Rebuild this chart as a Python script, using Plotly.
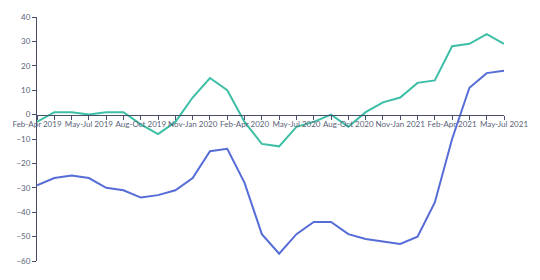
import plotly.graph_objects as go

periods = ["Feb-Apr 2019", "Mar-May 2019", "Apr-Jun 2019", "May-Jul 2019", "Jun-Aug 2019",
           "Jul-Sep 2019", "Aug-Oct 2019", "Sep-Nov 2019", "Oct-Dec 2019", "Nov-Jan 2020",
           "Dec-Feb 2020", "Jan-Mar 2020", "Feb-Apr 2020", "Mar-May 2020", "Apr-Jun 2020",
           "May-Jul 2020", "Jun-Aug 2020", "Jul-Sep 2020", "Aug-Oct 2020", "Sep-Nov 2020",
           "Oct-Dec 2020", "Nov-Jan 2021", "Dec-Feb 2021", "Jan-Mar 2021", "Feb-Apr 2021",
           "Mar-May 2021", "Apr-Jun 2021", "May-Jul 2021"]

teal_series = [-3, 1, 1, 0, 1, 1, -4, -8, -3, 7, 15, 10, -3, -12, -13, -5, -3, 0, -5, 1,
               5, 7, 13, 14, 28, 29, 33, 29]
blue_series = [-29, -26, -25, -26, -30, -31, -34, -33, -31, -26, -15, -14, -28, -49, -57,
               -49, -44, -44, -49, -51, -52, -53, -50, -36, -10, 11, 17, 18]

labelled_ticks = ["Feb-Apr 2019", "May-Jul 2019", "Aug-Oct 2019", "Nov-Jan 2020",
                  "Feb-Apr 2020", "May-Jul 2020", "Aug-Oct 2020", "Nov-Jan 2021",
                  "Feb-Apr 2021", "May-Jul 2021"]
y_ticks = [-60, -50, -40, -30, -20, -10, 0, 10, 20, 30, 40]

AXIS = "#4a4e6a"
TEXT = "#5a5f78"

fig = go.Figure()
fig.add_trace(go.Scatter(x=periods, y=blue_series, mode="lines",
                         line=dict(color="#566cd6", width=2), showlegend=False))
fig.add_trace(go.Scatter(x=periods, y=teal_series, mode="lines",
                         line=dict(color="#3cbfa6", width=2), showlegend=False))

fig.update_layout(
    width=540, height=280,
    margin=dict(l=33, r=27, t=14, b=19),
    paper_bgcolor="white", plot_bgcolor="white",
    font=dict(family="Lato", size=8, color=TEXT),
    xaxis=dict(
        type="category", range=[0, len(periods) - 1],
        anchor="free", position=0.6,
        showline=True, linecolor=AXIS, linewidth=1,
        ticks="outside", ticklen=4, tickcolor=AXIS,
        tickmode="array", tickvals=periods,
        ticktext=[p if p in labelled_ticks else "" for p in periods],
        tickangle=0, showgrid=False, zeroline=False,
        ticklabelstandoff=-2,
        tickfont=dict(family="Lato", size=8, color=TEXT),
    ),
    yaxis=dict(
        range=[-60, 40], tickmode="array", tickvals=y_ticks,
        showline=True, linecolor=AXIS, linewidth=1,
        ticks="outside", ticklen=4, tickcolor=AXIS,
        showgrid=False, zeroline=False,
        tickfont=dict(family="Lato", size=8, color=TEXT),
    ),
)

fig.write_html("out.html")
